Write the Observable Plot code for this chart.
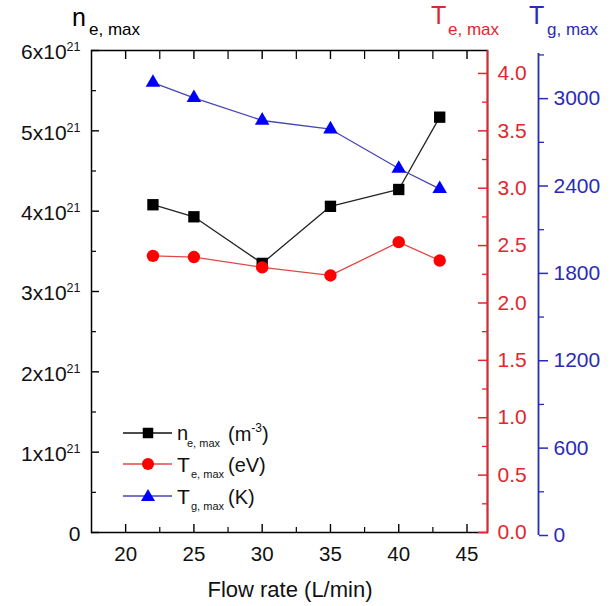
<!DOCTYPE html>
<html><head><meta charset="utf-8">
<script src="https://cdn.jsdelivr.net/npm/d3@7"></script>
<script src="https://cdn.jsdelivr.net/npm/@observablehq/plot@0.6"></script>
<style>
body{margin:0;background:#fff;}
#chart{position:relative;width:612px;height:606px;font-family:"Liberation Sans",Arial,sans-serif;}
#chart svg{position:absolute;left:0;top:0;}
</style></head><body><div id="chart"></div>
<script>
// ---- data ----
const flowRate = [22, 25, 30, 35, 40, 43];
const neMax = [4.08e21, 3.93e21, 3.35e21, 4.06e21, 4.27e21, 5.17e21]; // m^-3
const teMax = [2.41, 2.40, 2.31, 2.24, 2.53, 2.37];                   // eV
const tgMax = [3110, 3005, 2850, 2790, 2520, 2380];                   // K

const xDomain = [17.5, 46.5];
const xTicks = [20, 25, 30, 35, 40, 45];
const xMinor = [22.5, 27.5, 32.5, 37.5, 42.5];
const neDomain = [0, 6e21];
const neTicks = [0, 1e21, 2e21, 3e21, 4e21, 5e21, 6e21];
const neMinor = [0.5e21, 1.5e21, 2.5e21, 3.5e21, 4.5e21, 5.5e21];
const teDomain = [0, 4.2];
const teTicks = [0, 0.5, 1, 1.5, 2, 2.5, 3, 3.5, 4];
const teMinor = [0.25, 0.75, 1.25, 1.75, 2.25, 2.75, 3.25, 3.75];
const tgDomain = [0, 3310];
const tgTicks = [0, 600, 1200, 1800, 2400, 3000];
const tgMinor = [300, 900, 1500, 2100, 2700, 3300];

const xLabel = "Flow rate (L/min)";
const legendItems = [
  {main: "n", sub: "e, max", unit: ["(m", "-3", ")"], key: "ne"},
  {main: "T", sub: "e, max", unit: ["(eV)"], key: "te"},
  {main: "T", sub: "g, max", unit: ["(K)"], key: "tg"}
];

const rows = flowRate.map((f, i) => ({flow: f, ne: neMax[i], te: teMax[i], tg: tgMax[i]}));

const RED = "#e3262d", BLUE = "#2b2bb8";
const FONT = '"Liberation Sans", Arial, sans-serif';
const common = {
  width: 612, height: 606,
  marginLeft: 91, marginRight: 125, marginTop: 50, marginBottom: 74,
  style: {background: "transparent", fontFamily: FONT, fontSize: "20px", overflow: "visible"}
};

// ---- black (n_e) plot with frame and x axes ----
const p1 = Plot.plot({
  ...common,
  x: {domain: xDomain},
  y: {domain: neDomain},
  marks: [
    Plot.frame({stroke: "#000", strokeWidth: 1.5}),
    Plot.axisX(xTicks, {anchor: "bottom", tickSize: 8, dy: -8, tickFormat: () => "", strokeWidth: 1.4, label: null}),
    Plot.axisX(xMinor, {anchor: "bottom", tickSize: 5, dy: -5, tickFormat: () => "", strokeWidth: 1.2, label: null}),
    Plot.axisX(xTicks, {anchor: "bottom", tickSize: 0, tickPadding: 14, fontSize: 20.5, fill: "#111", label: null}),
    Plot.axisX(xTicks, {anchor: "top", tickSize: 8, dy: 8, tickFormat: () => "", strokeWidth: 1.4, label: null}),
    Plot.axisX(xMinor, {anchor: "top", tickSize: 8, dy: 8, tickFormat: () => "", strokeWidth: 1.2, label: null}),
    Plot.axisY(neTicks, {anchor: "left", tickSize: 8, dx: 8, tickFormat: () => "", strokeWidth: 1.4, label: null}),
    Plot.axisY(neMinor, {anchor: "left", tickSize: 5, dx: 5, tickFormat: () => "", strokeWidth: 1.2, label: null}),
    Plot.axisY(neTicks, {anchor: "left", tickSize: 0, tickPadding: 11, dy: 2, fontSize: 21, fill: "#111", label: null,
      tickFormat: d => d === 0 ? "0" : `${d / 1e21}x10`}),
    Plot.line(rows, {x: "flow", y: "ne", stroke: "#222", strokeWidth: 1.3}),
    Plot.dot(rows, {x: "flow", y: "ne", symbol: "square", r: 6.4, fill: "#000", stroke: "none"})
  ]
});

// ---- red (T_e) plot ----
const p2 = Plot.plot({
  ...common,
  x: {domain: xDomain, axis: null},
  y: {domain: teDomain},
  marks: [
    Plot.ruleX([xDomain[1]], {stroke: RED, strokeWidth: 1.8}),
    Plot.axisY(teTicks, {anchor: "right", tickSize: 10, dx: -10, tickFormat: () => "", stroke: RED, strokeWidth: 1.5, label: null}),
    Plot.axisY(teMinor, {anchor: "right", tickSize: 6, dx: -6, tickFormat: () => "", stroke: RED, strokeWidth: 1.3, label: null}),
    Plot.axisY(teTicks, {anchor: "right", tickSize: 0, tickPadding: 10, fontSize: 21, fill: RED, label: null,
      tickFormat: d => d.toFixed(1)}),
    Plot.line(rows, {x: "flow", y: "te", stroke: "#e04848", strokeWidth: 1.3}),
    Plot.dot(rows, {x: "flow", y: "te", symbol: "circle", r: 6.2, fill: "#ff0000", stroke: "none"})
  ]
});

// ---- blue (T_g) plot ----
const p3 = Plot.plot({
  ...common,
  marginTop: 53, marginBottom: 71,
  x: {domain: xDomain, axis: null},
  y: {domain: tgDomain},
  marks: [
    Plot.ruleX([xDomain[1]], {dx: 51, stroke: BLUE, strokeWidth: 1.8}),
    Plot.axisY(tgTicks, {anchor: "right", tickSize: 9, dx: 51, tickFormat: () => "", stroke: BLUE, strokeWidth: 1.5, label: null}),
    Plot.axisY(tgMinor, {anchor: "right", tickSize: 5, dx: 51, tickFormat: () => "", stroke: BLUE, strokeWidth: 1.3, label: null}),
    Plot.axisY(tgTicks, {anchor: "right", tickSize: 0, tickPadding: 15, dx: 51, fontSize: 21, fill: BLUE, label: null,
      tickFormat: d3.format("d")}),
    Plot.line(rows, {x: "flow", y: "tg", stroke: "#4646b4", strokeWidth: 1.3}),
    Plot.dot(rows, {x: "flow", y: "tg", symbol: "triangle", r: 5.4, fill: "#0000ff", stroke: "none"})
  ]
});

const chart = document.getElementById("chart");
chart.append(p1, p2, p3);

// superscript exponents on the left tick labels
d3.select(p1).selectAll('g[aria-label="y-axis tick label"] text').each(function () {
  const t = d3.select(this);
  const s = t.text();
  if (s !== "0" && s !== "") {
    t.append("tspan").attr("dy", -8).attr("font-size", 12.5).text("21");
  }
});

// titles, x label and legend
const svg = d3.select(p3);
const ann = svg.append("g").attr("font-family", FONT).attr("text-anchor", "start");
function txt(x, y, s, size, color, anchor = "start") {
  return ann.append("text").attr("x", x).attr("y", y).attr("font-size", size)
    .attr("fill", color).attr("text-anchor", anchor).text(s);
}
txt(72, 26, "n", 25, "#000");
txt(89, 35, "e, max", 17, "#000");
txt(431, 24, "T", 25, RED);
txt(448, 35, "e, max", 17, RED);
txt(529, 24, "T", 25, BLUE);
txt(547, 35, "g, max", 17, BLUE);
txt(290, 597, xLabel, 22, "#111", "middle");

const legendStyle = {
  ne: {line: "#111", fill: "#000", sym: d3.symbolSquare, size: 110},
  te: {line: "#e04848", fill: "#ff0000", sym: d3.symbolCircle, size: 115},
  tg: {line: "#4646b4", fill: "#0000ff", sym: d3.symbolTriangle, size: 85}
};
const rowY = [433, 464, 496];
legendItems.forEach((it, i) => {
  const y = rowY[i], st = legendStyle[it.key];
  ann.append("line").attr("x1", 123).attr("x2", 172).attr("y1", y).attr("y2", y)
    .attr("stroke", st.line).attr("stroke-width", 1.3);
  ann.append("path").attr("d", d3.symbol(st.sym, st.size)())
    .attr("transform", `translate(148,${y + (it.key === "tg" ? 1 : 0)})`).attr("fill", st.fill);
  const isN = it.main === "n";
  txt(177, y + (isN ? 7 : 8), it.main, isN ? 20 : 21, "#111");
  txt(isN ? 187 : 191, y + 14, it.sub, 11, "#111");
  const u = ann.append("text").attr("x", 228).attr("y", y + 8).attr("font-size", 20)
    .attr("fill", "#111").attr("text-anchor", "start");
  if (it.unit.length === 3) {
    u.append("tspan").text(it.unit[0]);
    u.append("tspan").attr("dy", -9).attr("font-size", 12).text(it.unit[1]);
    u.append("tspan").attr("dy", 9).text(it.unit[2]);
  } else {
    u.text(it.unit[0]);
  }
});
</script>
</body></html>
